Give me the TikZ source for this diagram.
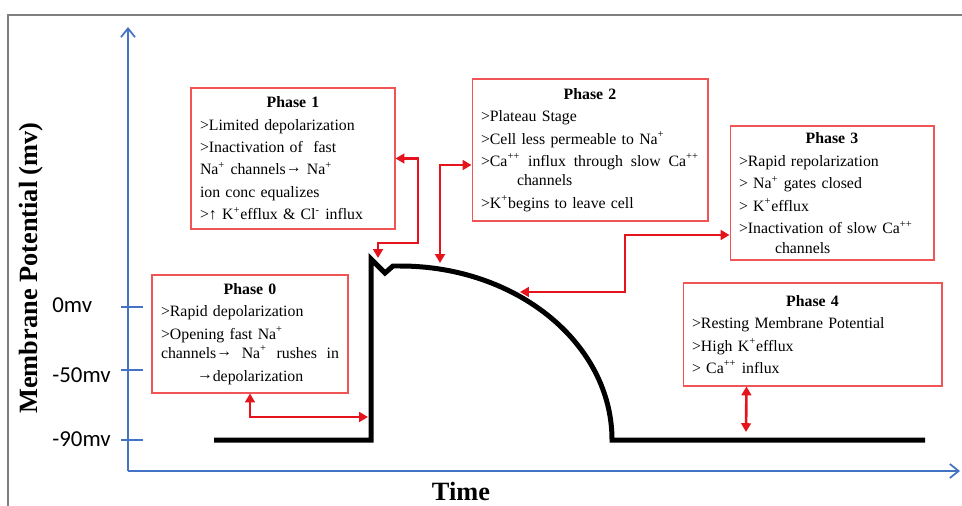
\documentclass[tikz,border=0pt]{standalone}
\usepackage{fontspec}
\setmainfont{Liberation Serif}
\newfontfamily\tickfont{Carlito}
\usepackage{xcolor}
\definecolor{boxred}{HTML}{F05454}
\definecolor{arrowred}{HTML}{E5141C}
\definecolor{axisblue}{HTML}{4472C4}
\definecolor{framegray}{HTML}{7F7F7F}
\usetikzlibrary{arrows.meta, calc}
\newcommand{\phasetitle}[1]{\makebox[\linewidth]{\textbf{#1}}}
\newcommand{\nextitem}{\\[1.8pt]}
\newcommand{\tarrow}{\raisebox{0.3ex}{→}}

\begin{document}
\begin{tikzpicture}[
        x=0.02cm, y=-0.02cm,
        phasebox/.style={
            draw=boxred,
            line width=0.6pt,
            text width=#1,
            inner xsep=0.18cm,
            inner ysep=0pt,
            align=left,
            font=\fontsize{9}{11}\selectfont
        },
        redarrow/.style={
            >={Triangle[length=5pt,width=5.5pt]}, <->,
            draw=arrowred,
            line width=1.5pt
        },
        axisline/.style={
            draw=axisblue,
            line width=1pt,
            -{Straight Barb[length=5pt,width=8pt]}
        },
        aptrace/.style={line width=0.1cm, line join=miter},
        ticklabel/.style={font=\tickfont\fontsize{13}{15}\selectfont, anchor=west, inner sep=0pt},
        axislabel/.style={font=\fontsize{15}{17}\selectfont\bfseries}
    ]
    \useasboundingbox (0,0) rectangle (962,506);

    % Frame
    \draw[framegray, line width=0.8pt] (8,506) -- (8,15) -- (962,15);

    % Axes
    \draw[axisline] (128,471) -- (960,471);
    \draw[axisline] (128,471) -- (128,27);
    \foreach \yy/\ly/\lab [count=\i] in {307/305/0mv, 370/375/-50mv, 440/439/-90mv} {
        \draw[axisblue, line width=1pt] (121,\yy) -- (143,\yy);
        \node[ticklabel] (mv\i) at (52,\ly) {\lab};
    }
    \node[axislabel] (timelabel) at (461,491) {Time};
    \node[axislabel, rotate=90] (mplabel) at (31,268) {Membrane Potential (mv)};

    % Action potential
    \draw[aptrace] (214,440) -- (371,440) -- (371,259) -- (385,273) -- (393,266) -- (400,266)
        arc[start angle=-90, end angle=0, x radius=212, y radius=174] -- (925,440);

    % Phase boxes
    \node[phasebox=3.56cm, minimum width=3.92cm, minimum height=2.36cm] (phase0) at (250,334) {%
        \phasetitle{Phase 0}\nextitem
        >Rapid depolarization\nextitem
        >Opening fast Na\textsuperscript{+}\\
        \makebox[\linewidth]{channels\tarrow\hfill Na\textsuperscript{+}\hfill rushes\hfill in}\nextitem
        \hspace*{0.72cm}\tarrow depolarization};
    \node[phasebox=3.72cm, minimum width=4.08cm, minimum height=2.82cm] (phase1) at (293,158.5) {%
        \phasetitle{Phase 1}\nextitem
        >Limited depolarization\nextitem
        >Inactivation of \ fast\nextitem
        Na\textsuperscript{+} channels\tarrow\ Na\textsuperscript{+}\nextitem
        ion conc equalizes\nextitem
        >↑ K\textsuperscript{+}efflux \& Cl\textsuperscript{-} influx};
    \node[phasebox=4.36cm, minimum width=4.72cm, minimum height=2.84cm] (phase2) at (590,150) {%
        \phasetitle{Phase 2}\nextitem
        >Plateau Stage\nextitem
        >Cell less permeable to Na\textsuperscript{+}\nextitem
        \makebox[\linewidth]{>Ca\textsuperscript{++}\hfill influx\hfill through\hfill slow\hfill Ca\textsuperscript{++}}\\
        \hspace*{0.72cm}channels\nextitem
        >K\textsuperscript{+}begins to leave cell};
    \node[phasebox=3.72cm, minimum width=4.08cm, minimum height=2.68cm] (phase3) at (832,193) {%
        \phasetitle{Phase 3}\nextitem
        >Rapid repolarization\nextitem
        > Na\textsuperscript{+} gates closed\nextitem
        > K\textsuperscript{+}efflux\nextitem
        >Inactivation of slow Ca\textsuperscript{++}\\
        \hspace*{0.72cm}channels};
    \node[phasebox=4.82cm, minimum width=5.18cm, minimum height=2.06cm] (phase4) at (812.5,334.5) {%
        \phasetitle{Phase 4}\nextitem
        >Resting Membrane Potential\nextitem
        >High K\textsuperscript{+}efflux\nextitem
        > Ca\textsuperscript{++} influx};

    % Arrow ends on the trace
    \coordinate (upstroke) at (368,417);
    \coordinate (spiketop) at (378,258);
    \coordinate (plateau) at (440,263);
    \coordinate (repol) at (520,292);
    \coordinate (rest) at (746,432);

    % Arrows
    \draw[redarrow] (phase0.south) |- (upstroke);
    \draw[redarrow] (phase1.east) -| (418,243) -| (spiketop);
    \draw[redarrow] (plateau) |- ($(phase2.west)+(0,15)$);
    \draw[redarrow] ($(phase3.west)+(0,42)$) -| (625,292) -- (repol);
    \draw[redarrow] ($(phase4.south)+(-66,0)$) -- (rest);

\end{tikzpicture}
\end{document}
